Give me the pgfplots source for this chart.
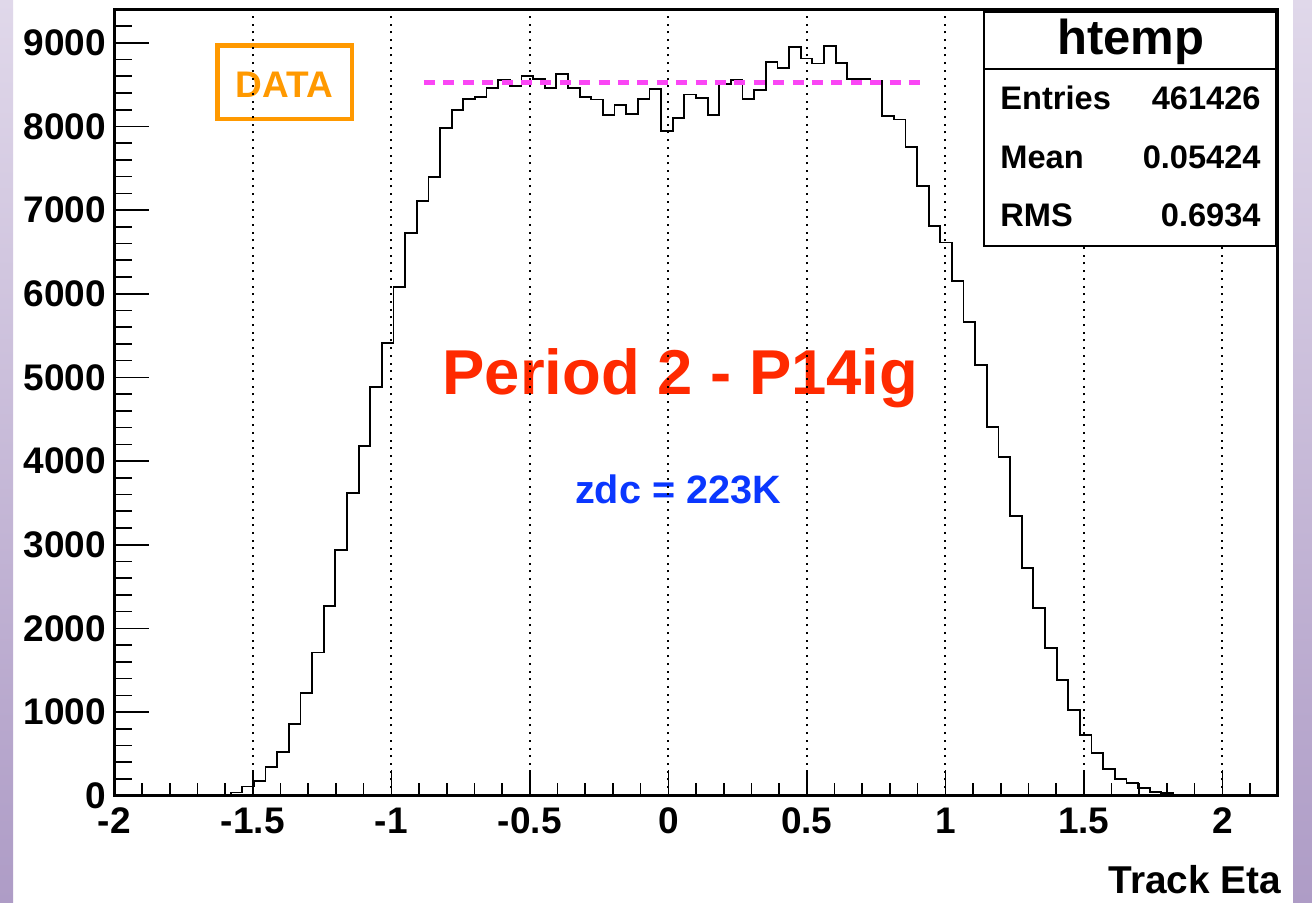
\documentclass[border=0pt]{standalone}
\usepackage{pgfplots}
\usepackage{pgfplotstable}
\pgfplotsset{compat=1.18}
\usepackage{fontspec}
\setmainfont{Liberation Sans}
\definecolor{rootred}{RGB}{255,42,0}
\definecolor{rootblue}{RGB}{10,55,255}
\definecolor{rootorange}{RGB}{255,153,0}
\definecolor{rootmag}{RGB}{250,70,245}
\definecolor{lavtop}{RGB}{224,216,234}
\definecolor{lavbot}{RGB}{174,156,198}

\pgfplotstableread{
x y
-2.000 0
-1.958 0
-1.916 0
-1.874 0
-1.832 0
-1.790 0
-1.748 0
-1.706 3
-1.664 10
-1.622 14
-1.580 38
-1.538 110
-1.496 172
-1.454 347
-1.412 524
-1.370 859
-1.328 1225
-1.286 1712
-1.244 2267
-1.202 2937
-1.160 3622
-1.118 4180
-1.076 4888
-1.034 5407
-0.992 6084
-0.950 6722
-0.908 7108
-0.866 7398
-0.824 7984
-0.782 8195
-0.740 8330
-0.698 8354
-0.656 8455
-0.614 8554
-0.572 8482
-0.530 8602
-0.488 8566
-0.446 8455
-0.404 8626
-0.362 8455
-0.320 8354
-0.278 8323
-0.236 8136
-0.194 8255
-0.152 8147
-0.110 8330
-0.068 8450
-0.026 7944
0.016 8104
0.058 8382
0.100 8342
0.142 8136
0.184 8506
0.226 8554
0.268 8326
0.310 8434
0.352 8769
0.394 8694
0.436 8948
0.478 8813
0.520 8753
0.562 8960
0.604 8761
0.646 8566
0.688 8566
0.730 8542
0.772 8124
0.814 8084
0.856 7757
0.898 7287
0.940 6812
0.982 6612
1.024 6150
1.066 5665
1.108 5148
1.150 4410
1.192 4052
1.234 3343
1.276 2725
1.318 2240
1.360 1762
1.402 1383
1.444 1024
1.486 725
1.528 507
1.570 315
1.612 200
1.654 148
1.696 88
1.738 48
1.780 29
1.822 14
1.864 5
1.906 0
1.948 0
1.990 0
2.032 0
2.074 0
2.116 0
2.158 0
2.200 0
}\histdata

\begin{document}
\begin{tikzpicture}[x=1pt,y=1pt]
\path[use as bounding box] (0,0) rectangle (656,451);
\fill[white] (0,0) rectangle (656,451);
\shade[top color=lavtop,bottom color=lavbot] (0,0) rectangle (6.5,451);
\shade[top color=lavtop,bottom color=lavbot] (646.5,0) rectangle (656,451);
% texts that lie under the grid
\draw[rootorange, line width=2.4pt] (108.65,391.5) rectangle (176,428.15);
\node[anchor=base, inner sep=0, text=rootorange, font=\fontsize{18.5}{20}\selectfont\bfseries] at (142.25,402.35) {DATA};
\node[anchor=base, inner sep=0, text=rootred, font=\fontsize{31.7}{34}\selectfont\bfseries] at (340.25,254) {Period 2 - P14ig};
\node[anchor=base, inner sep=0, text=rootblue, font=\fontsize{19.8}{22}\selectfont\bfseries] at (339,199.35) {zdc = 223K};
\begin{axis}[
  at={(57.15pt,53.15pt)}, anchor=south west,
  scale only axis, width=581.7pt, height=393.2pt,
  xmin=-2, xmax=2.2, ymin=0, ymax=9400,
  axis line style={line width=1.3pt},
  tick pos=left, tick align=inside,
  xtick={-2,-1.5,-1,-0.5,0,0.5,1,1.5,2},
  xticklabels={-2,-1.5,-1,-0.5,0,0.5,1,1.5,2},
  minor xtick={-1.9,-1.8,-1.7,-1.6,-1.4,-1.3,-1.2,-1.1,-0.9,-0.8,-0.7,-0.6,-0.4,-0.3,-0.2,-0.1,0.1,0.2,0.3,0.4,0.6,0.7,0.8,0.9,1.1,1.2,1.3,1.4,1.6,1.7,1.8,1.9,2.1},
  ytick={0,1000,2000,3000,4000,5000,6000,7000,8000,9000},
  yticklabels={0,1000,2000,3000,4000,5000,6000,7000,8000,9000},
  minor ytick={200,400,600,800,1200,1400,1600,1800,2200,2400,2600,2800,3200,3400,3600,3800,4200,4400,4600,4800,5200,5400,5600,5800,6200,6400,6600,6800,7200,7400,7600,7800,8200,8400,8600,8800,9200},
  major tick length=17.5pt, minor tick length=9pt,
  major x tick style={/pgfplots/major tick length=12.8pt},
  minor x tick style={/pgfplots/minor tick length=6.2pt},
  tick style={line width=0.8pt, black},
  tick label style={font=\fontsize{18.5}{20}\selectfont\bfseries},
  yticklabel style={inner sep=0pt, xshift=-4pt, anchor=east},
  xticklabel style={inner sep=0pt, yshift=-6pt, anchor=north},
  xmajorgrids=true,
  major x grid style={black, line width=1pt, dash pattern=on 1pt off 2.85pt},
]
\addplot[const plot, black, line width=0.9pt] table {\histdata};
\addplot[rootmag, line width=2.6pt, dash pattern=on 5.5pt off 4.2pt] coordinates {(-0.882,8521) (0.927,8521)};
\end{axis}
% stats box
\draw[line width=0.9pt, fill=white] (492.15,328) rectangle (638,445);
\draw[line width=0.9pt] (492.15,416.35) -- (638,416.35);
\node[anchor=base, inner sep=0, font=\fontsize{24.5}{26}\selectfont\bfseries] at (565.35,423.85) {htemp};
\begin{scope}[every node/.style={inner sep=0, font=\fontsize{16.3}{18}\selectfont\bfseries}]
\node[anchor=base west] at (500,396) {Entries};
\node[anchor=base east] at (630.5,396) {461426};
\node[anchor=base west] at (500,366.85) {Mean};
\node[anchor=base east] at (630.5,366.85) {0.05424};
\node[anchor=base west] at (500,337.65) {RMS};
\node[anchor=base east] at (630.5,337.65) {0.6934};
\end{scope}
\node[anchor=base east, inner sep=0, font=\fontsize{19.4}{21}\selectfont\bfseries] at (640.85,4.35) {Track Eta};
\end{tikzpicture}
\end{document}
